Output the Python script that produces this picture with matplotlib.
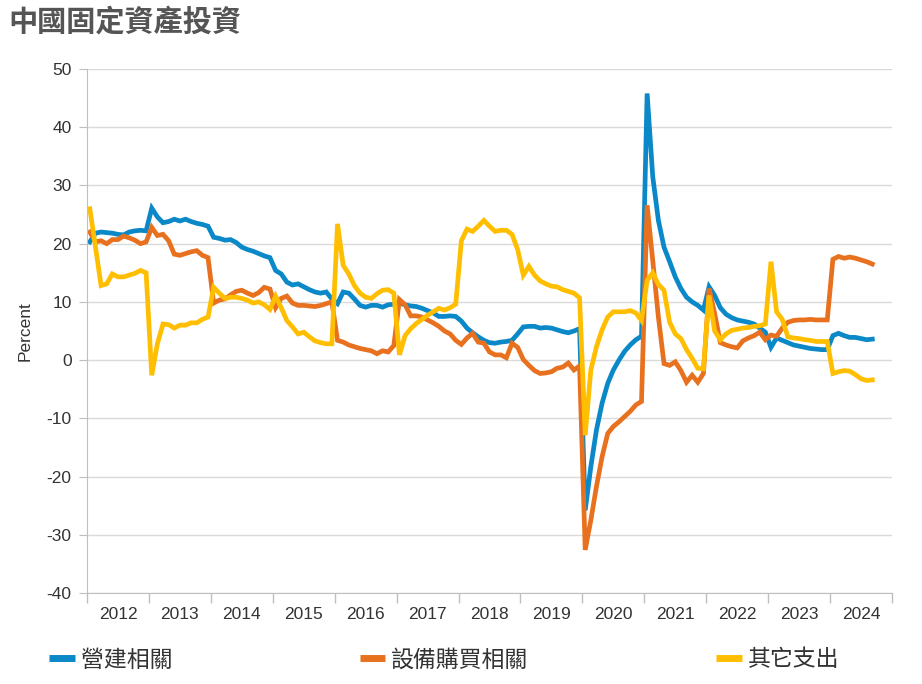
import matplotlib
matplotlib.use('Agg')
import matplotlib.pyplot as plt
import numpy as np

plt.rcParams['font.family'] = ['Liberation Sans', 'Noto Sans CJK TC']
plt.rcParams['axes.unicode_minus'] = False

# 年份標籤 (每年 2-12 月共 11 個數據點, 1-2 月合併)
years = ['2012', '2013', '2014', '2015', '2016', '2017', '2018',
         '2019', '2020', '2021', '2022', '2023', '2024']
pts_per_year = 11

# 營建相關
construction = [
    20.3, 21.8, 22.0, 21.9, 21.8, 21.6, 21.5, 22.0, 22.2, 22.3, 22.2,
    26.1, 24.6, 23.6, 23.8, 24.2, 23.9, 24.2, 23.8, 23.5, 23.3, 23.0,
    21.1, 20.9, 20.6, 20.7, 20.2, 19.4, 19.0, 18.7, 18.3, 17.9, 17.6,
    15.4, 14.8, 13.4, 12.9, 13.1, 12.6, 12.1, 11.7, 11.5, 11.7, 10.5,
    9.7, 11.7, 11.5, 10.5, 9.4, 9.1, 9.4, 9.4, 9.1, 9.5, 9.6,
    9.8, 9.5, 9.3, 9.2, 8.9, 8.5, 8.1, 7.5, 7.5, 7.6, 7.5,
    6.7, 5.5, 4.7, 4.0, 3.4, 3.0, 2.9, 3.1, 3.2, 3.4, 4.5,
    5.7, 5.8, 5.8, 5.5, 5.6, 5.5, 5.2, 4.9, 4.7, 5.0, 5.4,
    -25.8, -18.3, -12.0, -7.4, -4.0, -1.7, 0.0, 1.5, 2.6, 3.5, 4.1,
    45.8, 31.5, 24.0, 19.4, 16.9, 14.3, 12.3, 10.8, 10.0, 9.4, 8.6,
    12.6, 11.1, 9.0, 7.9, 7.3, 6.9, 6.7, 6.5, 6.2, 5.5, 4.8,
    2.2, 3.8, 3.4, 3.0, 2.6, 2.4, 2.2, 2.0, 1.9, 1.8, 1.8,
    4.2, 4.6, 4.2, 3.9, 3.9, 3.7, 3.5, 3.6,
]

# 設備購買相關
equipment = [
    22.0, 20.3, 20.5, 20.0, 20.7, 20.7, 21.3, 21.0, 20.6, 20.0, 20.3,
    22.8, 21.4, 21.6, 20.5, 18.2, 18.0, 18.3, 18.6, 18.8, 18.0, 17.6,
    9.8, 10.3, 10.5, 11.2, 11.8, 12.0, 11.5, 11.1, 11.6, 12.5, 12.2,
    9.0, 10.6, 11.0, 9.8, 9.4, 9.4, 9.3, 9.2, 9.4, 9.7, 10.0,
    3.4, 3.1, 2.6, 2.3, 2.0, 1.8, 1.6, 1.1, 1.6, 1.4, 2.5,
    10.4, 9.5, 7.6, 7.6, 7.4, 6.9, 6.4, 5.8, 5.0, 4.5, 3.4,
    2.7, 3.8, 4.6, 3.1, 2.9, 1.4, 0.9, 0.9, 0.4, 2.9, 2.2,
    0.1, -0.9, -1.8, -2.3, -2.2, -2.0, -1.4, -1.2, -0.5, -1.7, -1.0,
    -32.6, -27.5, -21.7, -16.6, -12.6, -11.4, -10.6, -9.7, -8.8, -7.7, -7.1,
    26.6, 17.1, 7.4, -0.6, -0.9, -0.3, -1.8, -3.8, -2.6, -3.8, -2.3,
    12.3, 8.0, 3.0, 2.6, 2.3, 2.1, 3.3, 3.8, 4.2, 4.8, 3.5,
    4.3, 4.1, 5.5, 6.5, 6.8, 6.9, 6.9, 7.0, 6.9, 6.9, 6.9,
    17.3, 17.8, 17.5, 17.7, 17.5, 17.2, 16.9, 16.5,
]

# 其它支出
other = [
    26.0, 19.5, 12.8, 13.1, 14.8, 14.3, 14.3, 14.6, 14.9, 15.4, 15.0,
    -2.6, 2.8, 6.2, 6.1, 5.5, 6.0, 6.0, 6.4, 6.4, 7.0, 7.4,
    12.5, 11.5, 10.6, 10.8, 10.8, 10.6, 10.3, 9.8, 10.0, 9.5, 8.7,
    11.0, 9.0, 6.8, 5.7, 4.5, 4.8, 4.0, 3.3, 3.0, 2.8, 2.8,
    23.4, 16.3, 14.8, 12.8, 11.5, 10.8, 10.6, 11.4, 12.0, 12.1, 11.5,
    0.9, 4.2, 5.4, 6.3, 7.0, 7.7, 8.3, 8.9, 8.6, 9.0, 9.6,
    20.5, 22.5, 22.1, 23.0, 24.0, 23.0, 22.1, 22.3, 22.3, 21.6, 19.0,
    14.6, 16.1, 14.6, 13.6, 13.1, 12.7, 12.6, 12.1, 11.8, 11.5, 10.7,
    -12.9, -1.7, 2.3, 5.2, 7.4, 8.3, 8.3, 8.3, 8.5, 8.1, 6.8,
    13.7, 15.0, 13.0, 12.0, 6.5, 4.5, 3.7, 1.8, 0.3, -1.4, -1.5,
    11.1, 5.0, 3.5, 4.5, 5.1, 5.3, 5.5, 5.6, 5.8, 5.9, 6.2,
    16.9, 8.3, 7.0, 4.0, 3.8, 3.7, 3.5, 3.4, 3.2, 3.2, 3.2,
    -2.3, -2.0, -1.8, -1.9, -2.5, -3.2, -3.5, -3.4,
]

labels = ['營建相關', '設備購買相關', '其它支出']
colors = ['#0B88C7', '#E8711F', '#FFBF00']

fig = plt.figure(figsize=(9.22, 6.84), dpi=100)
ax = fig.add_axes([87 / 922, 1 - 593 / 684, (892 - 87) / 922, (593 - 69) / 684])

x = np.arange(len(construction)) + 0.5
for series, lab, col in zip([construction, equipment, other], labels, colors):
    ax.plot(x, series, color=col, lw=3.4, label=lab, solid_joinstyle='miter')

n_years = len(years)
ax.set_xlim(0, n_years * pts_per_year)
ax.set_ylim(-40, 50)
ax.set_yticks(np.arange(-40, 51, 10))
ax.yaxis.grid(True, color='#DADADA', lw=1)
ax.set_axisbelow(True)

# 年份刻度: 分隔線在年界, 標籤在年中
ax.set_xticks(np.arange(n_years + 1) * pts_per_year, minor=True)
ax.set_xticks(np.arange(n_years) * pts_per_year + pts_per_year / 2)
ax.set_xticklabels(years)
ax.tick_params(axis='x', which='major', length=0, pad=10, labelsize=12.5, labelcolor='#333333')
ax.tick_params(axis='x', which='minor', length=7, color='#BFBFBF', width=1)
ax.tick_params(axis='y', length=6, color='#BFBFBF', labelsize=12.5, labelcolor='#333333', pad=5)

for s in ['top', 'right']:
    ax.spines[s].set_visible(False)
for s in ['left', 'bottom']:
    ax.spines[s].set_color('#BFBFBF')

ax.set_ylabel('Percent', fontsize=12.5, color='#333333', labelpad=10)

fig.text(8 / 922, 1 - 22 / 684, '中國固定資產投資', fontsize=21, fontweight='bold',
         color='#555555', va='center', ha='left', family='Noto Sans CJK TC')

leg = fig.legend(loc='center left', bbox_to_anchor=(38 / 922, 1 - 660 / 684), ncol=3,
                 frameon=False, fontsize=16.5, handlelength=1.1, handletextpad=0.26,
                 columnspacing=8.2, labelcolor='#333333', borderpad=0)
for h in leg.get_lines():
    h.set_linewidth(5)
    h.set_solid_capstyle('butt')

fig.savefig('out.png', dpi=100)
plt.close(fig)
